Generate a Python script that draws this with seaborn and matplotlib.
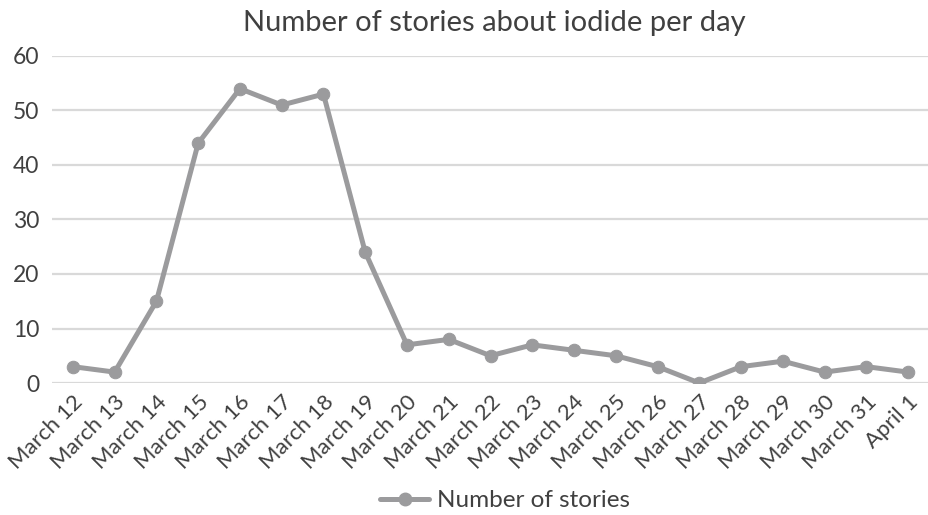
import matplotlib
matplotlib.use("Agg")
import matplotlib.pyplot as plt
import seaborn as sns
import pandas as pd
from matplotlib.lines import Line2D

dates = ["March 12", "March 13", "March 14", "March 15", "March 16", "March 17",
         "March 18", "March 19", "March 20", "March 21", "March 22", "March 23",
         "March 24", "March 25", "March 26", "March 27", "March 28", "March 29",
         "March 30", "March 31", "April 1"]
stories = [3, 2, 15, 44, 54, 51, 53, 24, 7, 8, 5, 7, 6, 5, 3, 0, 3, 4, 2, 3, 2]
y_ticks = [0, 10, 20, 30, 40, 50, 60]

df = pd.DataFrame({"idx": range(len(dates)), "date": dates, "stories": stories})

sns.set_theme(style="white")
plt.rcParams["font.family"] = ["Lato", "DejaVu Sans"]

LINE = "#9b9b9d"
TXT = "#404040"

fig = plt.figure(figsize=(9.29, 5.15), dpi=100)
ax = fig.add_axes([0.056, 0.2563, 0.944, 0.635])

sns.lineplot(data=df, x="idx", y="stories", ax=ax, color=LINE, linewidth=3.6,
             marker="o", markersize=9, markeredgecolor=LINE, markerfacecolor=LINE,
             sort=False, legend=False, zorder=3)

ax.set_xlim(-0.5, len(dates) - 0.5)
ax.set_ylim(0, 60)
ax.set_yticks(y_ticks)
ax.set_yticklabels([str(v) for v in y_ticks], fontsize=16.5, color=TXT)
ax.set_xticks(range(len(dates)))
ax.set_xticklabels(dates, rotation=45, ha="right", rotation_mode="anchor",
                   fontsize=16, color=TXT)
ax.tick_params(axis="x", length=0, pad=6)
ax.tick_params(axis="y", length=0, pad=9)
ax.set_xlabel("")
ax.set_ylabel("")
for s in ax.spines.values():
    s.set_visible(False)
ax.grid(axis="y", color="#d9d9d9", linewidth=1.6, zorder=0)
ax.set_axisbelow(True)

fig.text(0.532, 0.955, "Number of stories about iodide per day", ha="center",
         va="center", fontsize=21, color=TXT)

handle = Line2D([0], [0], color=LINE, linewidth=3.6, marker="o", markersize=9)
fig.legend([handle], ["Number of stories"], loc="center", bbox_to_anchor=(0.544, 0.028),
           frameon=False, fontsize=17.5, labelcolor=TXT, handlelength=2.0,
           handletextpad=0.35)

fig.savefig("out.png", dpi=100)
